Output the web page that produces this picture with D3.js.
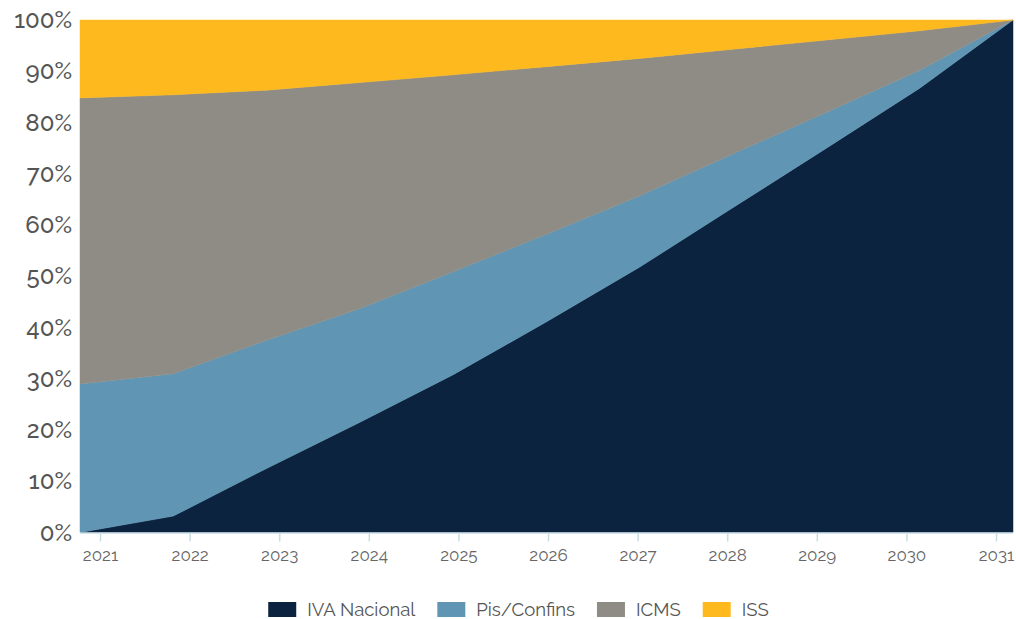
<!DOCTYPE html>
<html>
<head>
<meta charset="utf-8">
<script src="https://cdn.jsdelivr.net/npm/d3@7"></script>
<style>
  html, body { margin: 0; padding: 0; background: #fff; }
  svg { display: block; }
</style>
</head>
<body>
<svg id="chart"></svg>
<script>
var width = 1016,
    height = 619;

// data (percent share of each tax per year)
let years = [2021, 2022, 2023, 2024, 2025, 2026, 2027, 2028, 2029, 2030, 2031];
let ivaNacional = [0, 3.2, 12.5, 21.5, 30.8, 41.1, 51.8, 63.4, 75.0, 86.7, 100];
let pisConfins = [29.0, 27.8, 25.0, 22.2, 20.1, 17.1, 13.9, 10.5, 7.0, 3.5, 0];
let icms = [55.8, 54.4, 48.8, 44.1, 38.4, 32.7, 26.8, 20.4, 14.1, 7.7, 0];
let iss = [15.2, 14.6, 13.7, 12.2, 10.7, 9.1, 7.5, 5.7, 3.9, 2.1, 0];
let seriesNames = ['IVA Nacional', 'Pis/Confins', 'ICMS', 'ISS'];
let yTicks = [0, 10, 20, 30, 40, 50, 60, 70, 80, 90, 100];

let colors = ['#0b233f', '#6096b4', '#8f8c85', '#fdb91e'];
let font = "Raleway, 'DejaVu Sans', sans-serif";

let rows = years.map(function(y, i) {
    return {year: y, 'IVA Nacional': ivaNacional[i], 'Pis/Confins': pisConfins[i], 'ICMS': icms[i], 'ISS': iss[i]};
});

let plotLeft = 80, plotRight = 1013, plotTop = 20, plotBottom = 532.5;

let svg = d3.select('#chart').attr('width', width).attr('height', height);

let x = d3.scaleLinear().domain([years[0], years[years.length - 1]]).range([plotLeft, plotRight]);
// the axis ticks sit slightly inside the area's extent
let xTick = d3.scaleLinear().domain([years[0], years[years.length - 1]]).range([100, 996]);
let y = d3.scaleLinear().domain([0, 100]).range([plotBottom, plotTop]);

let stack = d3.stack().keys(seriesNames);
let layers = stack(rows);

let area = d3.area()
    .x(function(d) { return x(d.data.year); })
    .y0(function(d) { return y(d[0]); })
    .y1(function(d) { return y(d[1]); });

svg.append('g').selectAll('path')
    .data(layers)
    .enter()
    .append('path')
    .attr('d', area)
    .attr('fill', function(d, i) { return colors[i]; })
    .attr('stroke', function(d, i) { return colors[i]; })
    .attr('stroke-width', 0.5);

// y labels
let yAxis = svg.append('g')
    .attr('transform', 'translate(' + plotLeft + ',0)')
    .call(d3.axisLeft(y).tickValues(yTicks).tickSize(0).tickPadding(8).tickFormat(function(d) { return d + '%'; }));
yAxis.select('.domain').remove();
yAxis.selectAll('text')
    .attr('font-family', font)
    .attr('font-size', '24px')
    .attr('font-weight', 500)
    .attr('fill', '#555555');

// x axis
svg.append('line')
    .attr('x1', plotLeft).attr('x2', plotRight)
    .attr('y1', plotBottom + 0.5).attr('y2', plotBottom + 0.5)
    .attr('stroke', '#c8dde5')
    .attr('stroke-width', 1.5);

let xAxis = svg.append('g')
    .attr('transform', 'translate(0,' + (plotBottom + 1) + ')')
    .call(d3.axisBottom(xTick).tickValues(years).tickSize(8).tickPadding(7).tickFormat(d3.format('d')));
xAxis.select('.domain').remove();
xAxis.selectAll('line').attr('stroke', '#c8dde5').attr('stroke-width', 1.5);
xAxis.selectAll('text')
    .attr('font-family', font)
    .attr('font-size', '17px')
    .attr('fill', '#666666');

// legend
let legend = svg.append('g').attr('class', 'legend');
let items = legend.selectAll('g')
    .data(seriesNames)
    .enter()
    .append('g');
items.append('rect')
    .attr('width', 28)
    .attr('height', 15)
    .attr('y', 602)
    .attr('fill', function(d, i) { return colors[i]; });
items.append('text')
    .attr('x', 39)
    .attr('y', 609.5)
    .attr('dy', '0.35em')
    .attr('font-family', font)
    .attr('font-size', '18.5px')
    .attr('fill', '#555555')
    .text(function(d) { return d; });

let widths = [];
items.each(function() {
    widths.push(39 + this.querySelector('text').getComputedTextLength());
});
let gap = 22;
let total = d3.sum(widths) + gap * (widths.length - 1);
let cx = 274 + (763 - 274) / 2;
let pos = cx - total / 2;
items.attr('transform', function(d, i) {
    let t = 'translate(' + pos + ',0)';
    pos += widths[i] + gap;
    return t;
});
</script>
</body>
</html>
